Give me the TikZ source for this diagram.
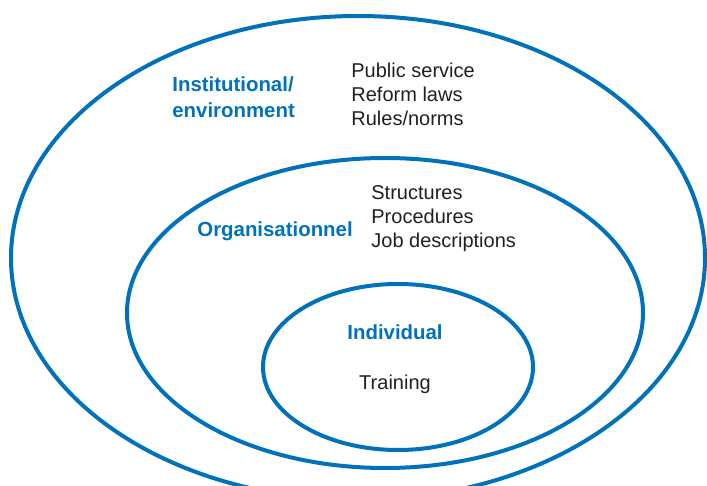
\documentclass[tikz,border=0pt]{standalone}
\usepackage{fontspec}
\setmainfont{Liberation Sans}
\usetikzlibrary{shapes.geometric}
\definecolor{ringblue}{RGB}{0,114,188}
\definecolor{listgray}{RGB}{35,31,32}
\tikzset{
  ring/.style={ellipse, draw=ringblue, line width=2pt, inner sep=0pt},
  levelname/.style={text=ringblue, font=\fontsize{10.2}{13}\selectfont\bfseries,
                    align=left, inner sep=0pt},
  itemlist/.style={text=listgray, font=\fontsize{10}{12}\selectfont,
                   align=left, inner sep=0pt}
}
\begin{document}
\begin{tikzpicture}[x=0.5pt, y=-0.5pt]
  \useasboundingbox (0,0) rectangle (707,486);
  % the three levels
  \node[ring, minimum width=347pt, minimum height=242pt] (outer) at (358,258) {};
  \node[ring, minimum width=258pt, minimum height=155pt] (middle) at (385,313) {};
  \node[ring, minimum width=135pt, minimum height=83pt] (inner) at (398,367) {};

  % labels
  \node[levelname, anchor=west] (instname) at (172,97) {Institutional/\\environment};
  \node[itemlist, anchor=west] (instlist) at (351,94) {Public service\\Reform laws\\Rules/norms};

  \node[levelname, anchor=west] (orgname) at (197,231) {Organisationnel};
  \node[itemlist, anchor=west] (orglist) at (371,219) {Structures\\Procedures\\Job descriptions};

  \node[levelname] (indname) at (395,332) {Individual};
  \node[itemlist] (indlist) at (395,384) {Training};
\end{tikzpicture}
\end{document}
